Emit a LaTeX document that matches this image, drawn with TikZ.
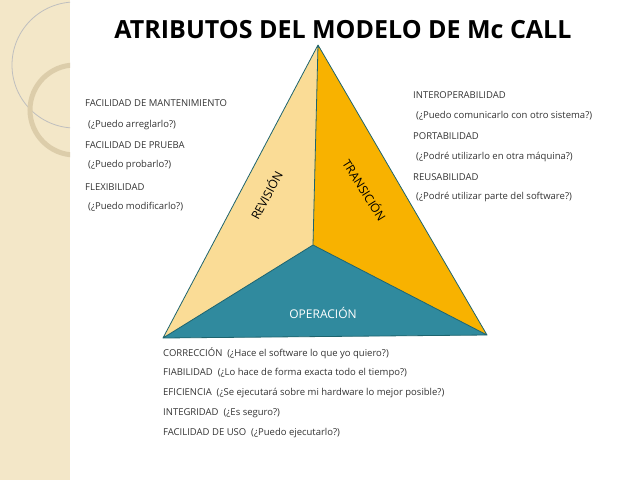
\documentclass[tikz,border=0pt]{standalone}
\usepackage{fontspec}
\setmainfont{Open Sans}
\definecolor{band}{RGB}{243,231,200}
\definecolor{ring}{RGB}{220,205,170}
\definecolor{fleft}{RGB}{250,220,150}
\definecolor{fright}{RGB}{248,178,0}
\definecolor{fbot}{RGB}{48,138,158}
\definecolor{edge}{RGB}{30,100,110}
\begin{document}
\begin{tikzpicture}[x=1pt,y=-1pt,
  txt/.style={anchor=west,inner sep=0pt,font=\fontsize{9.5}{11}\selectfont,text=black!80},
  face/.style={draw=edge,line width=0.8pt,line join=round},
  lab/.style={font=\fontsize{12}{14}\selectfont,inner sep=0pt}]
\useasboundingbox (0,0) rectangle (640,480);
\fill[white] (0,0) rectangle (640,480);
\fill[band] (0,0) rectangle (70,480);
\begin{scope}
\clip (0,0) rectangle (70,480);
\draw[black!25,line width=0.8pt] (75,65) circle (63);
\draw[ring,line width=5pt] (75,110) circle (45);
\end{scope}
\node[font=\bfseries\fontsize{25}{28}\selectfont,inner sep=0pt] (title) at (343,30) {ATRIBUTOS DEL MODELO DE Mc CALL};
\coordinate (A) at (318,45);
\coordinate (L) at (163,338);
\coordinate (R) at (487,335);
\coordinate (C) at (313,245);
\fill[fleft] (A) -- (C) -- (L) -- cycle;
\fill[fright] (A) -- (R) -- (C) -- cycle;
\fill[fbot] (L) -- (C) -- (R) -- cycle;
\draw[face] (A) -- (L) -- (R) -- cycle (A) -- (C) (L) -- (C) -- (R);
\node[lab,rotate=62] (rev) at (266,195) {REVISIÓN};
\node[lab,rotate=-58] (tra) at (365,190) {TRANSICIÓN};
\node[lab,text=white] (op) at (323,313) {OPERACIÓN};
\node[txt] (l1) at (85,103) {FACILIDAD DE MANTENIMIENTO};
\node[txt] (l2) at (88,125) {(¿Puedo arreglarlo?)};
\node[txt] (l3) at (85,145) {FACILIDAD DE PRUEBA};
\node[txt] (l4) at (88,165) {(¿Puedo probarlo?)};
\node[txt] (l5) at (85,187) {FLEXIBILIDAD};
\node[txt] (l6) at (88,207) {(¿Puedo modificarlo?)};
\node[txt] (r1) at (413,95) {INTEROPERABILIDAD};
\node[txt] (r2) at (416,116) {(¿Puedo comunicarlo con otro sistema?)};
\node[txt] (r3) at (413,136) {PORTABILIDAD};
\node[txt] (r4) at (416,157) {(¿Podré utilizarlo en otra máquina?)};
\node[txt] (r5) at (413,177) {REUSABILIDAD};
\node[txt] (r6) at (416,197) {(¿Podré utilizar parte del software?)};
\node[txt] (b1) at (163,353) {CORRECCIÓN \ (¿Hace el software lo que yo quiero?)};
\node[txt] (b2) at (163,373) {FIABILIDAD \ (¿Lo hace de forma exacta todo el tiempo?)};
\node[txt] (b3) at (163,393) {EFICIENCIA \ (¿Se ejecutará sobre mi hardware lo mejor posible?)};
\node[txt] (b4) at (163,413) {INTEGRIDAD \ (¿Es seguro?)};
\node[txt] (b5) at (163,433) {FACILIDAD DE USO \ (¿Puedo ejecutarlo?)};
\end{tikzpicture}
\end{document}
